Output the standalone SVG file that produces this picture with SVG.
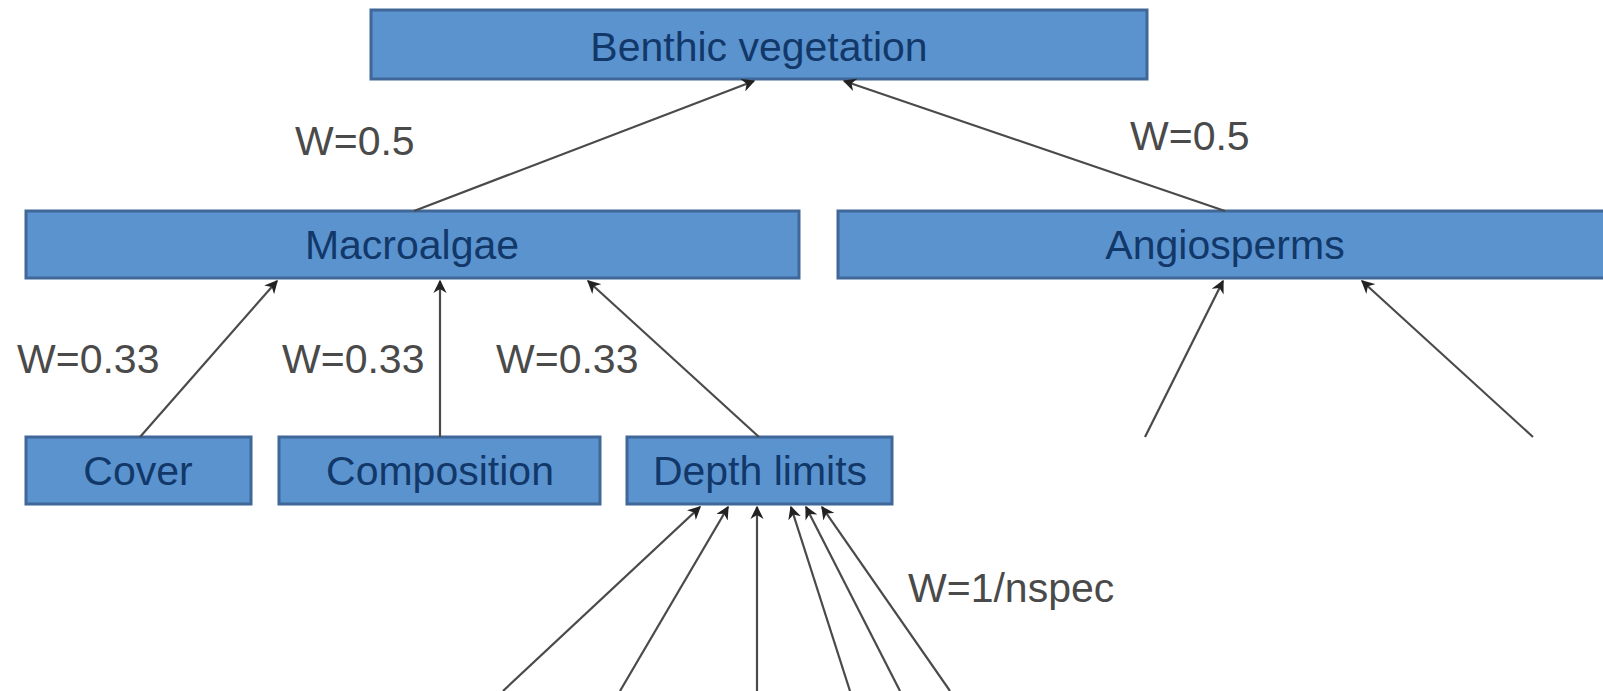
<svg xmlns="http://www.w3.org/2000/svg" width="1603" height="691" viewBox="0 0 1603 691">
<defs>
<style>
.box{fill:#5b93cf;stroke:#3f6797;stroke-width:3}
.nt{font-family:"Liberation Sans",Arial,sans-serif;font-size:41px;fill:#12386a;text-anchor:middle}
.lb{font-family:"Liberation Sans",Arial,sans-serif;font-size:41px;fill:#4a4a4a}
.cn line{stroke:#4a4a4a;stroke-width:2.2;marker-end:url(#ah)}
</style>
<marker id="ah" viewBox="0 0 10 10" refX="9" refY="5" markerWidth="6" markerHeight="6" orient="auto" markerUnits="strokeWidth">
<path d="M0,0 L10,5 L0,10 L3,5 z" fill="#222"/>
</marker>
</defs>
<rect width="1603" height="691" fill="#ffffff"/>
<g id="benthic"><rect class="box" x="371" y="10" width="776" height="69"/><text class="nt" x="759" y="61">Benthic vegetation</text></g>
<g id="macroalgae"><rect class="box" x="26" y="211" width="773" height="67"/><text class="nt" x="412" y="259">Macroalgae</text></g>
<g id="angiosperms"><rect class="box" x="838" y="211" width="770" height="67"/><text class="nt" x="1225" y="259">Angiosperms</text></g>
<g id="cover"><rect class="box" x="26" y="437" width="225" height="67"/><text class="nt" x="138" y="485">Cover</text></g>
<g id="composition"><rect class="box" x="279" y="437" width="321" height="67"/><text class="nt" x="440" y="485">Composition</text></g>
<g id="depth"><rect class="box" x="627" y="437" width="265" height="67"/><text class="nt" x="760" y="485">Depth limits</text></g>
<g id="connectors" class="cn">
<line x1="414" y1="211" x2="754" y2="81"/>
<line x1="1225" y1="211" x2="844" y2="81"/>
<line x1="140" y1="437" x2="277" y2="281"/>
<line x1="440" y1="437" x2="440" y2="281"/>
<line x1="759" y1="437" x2="588" y2="281"/>
<line x1="1145" y1="437" x2="1223" y2="281"/>
<line x1="1533" y1="437" x2="1362" y2="281"/>
<line x1="503" y1="691" x2="700" y2="507"/>
<line x1="620" y1="691" x2="728" y2="507"/>
<line x1="757" y1="691" x2="757" y2="507"/>
<line x1="850" y1="691" x2="791" y2="507"/>
<line x1="900" y1="691" x2="806" y2="507"/>
<line x1="950" y1="691" x2="822" y2="507"/>
</g>
<g id="labels">
<text class="lb" x="295" y="155">W=0.5</text>
<text class="lb" x="1130" y="150">W=0.5</text>
<text class="lb" x="17" y="373">W=0.33</text>
<text class="lb" x="282" y="373">W=0.33</text>
<text class="lb" x="496" y="373">W=0.33</text>
<text class="lb" x="908" y="602">W=1/nspec</text>
</g>
</svg>
